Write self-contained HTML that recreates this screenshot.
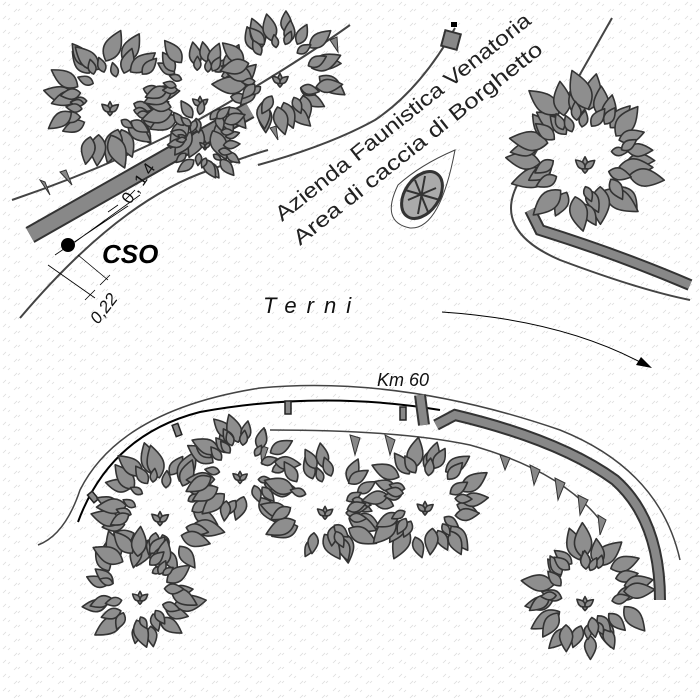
<!DOCTYPE html>
<html><head><meta charset="utf-8"><style>
html,body{margin:0;padding:0;background:#fff}
svg{display:block}
</style></head><body>
<svg id="s" width="700" height="700" viewBox="0 0 700 700" xmlns="http://www.w3.org/2000/svg">
<defs>
<pattern id="st" width="22" height="14" patternUnits="userSpaceOnUse">
<path d="M3 5 l3 -3 M8 6 l2 -2 M14 12 l3 -3 M18 11 l2 -2" stroke="#dcdcdc" stroke-width="0.8"/>
</pattern>
</defs>
<rect width="700" height="700" fill="#fff"/>
<rect width="700" height="700" fill="url(#st)"/>
<g id="roads" fill="none" stroke="#444" stroke-width="2">
<path d="M20 318 Q120 200 210 170 Q250 155 268 150"/>
<path d="M12 200 Q100 170 180 130 Q280 75 350 25"/>
<path d="M258 165 Q330 145 375 120 Q420 90 455 28"/>
<path d="M30 235 L250 110" stroke="#333" stroke-width="18"/>
<path d="M30 235 L250 110" stroke="#888" stroke-width="14"/>
<path d="M612 18 Q560 110 520 180 Q490 230 560 260 Q640 290 690 300"/>
<path d="M530 210 L540 230 Q620 255 690 285" stroke="#333" stroke-width="12"/>
<path d="M530 210 L540 230 Q620 255 690 285" stroke="#888" stroke-width="8"/>
<path d="M38 545 Q65 535 80 490 Q120 410 260 388 Q400 375 560 430 Q660 470 680 560" stroke-width="1.5"/>
<path d="M78 522 Q110 435 200 412 Q320 390 440 410" stroke="#000" stroke-width="2"/>
<path d="M436 425 L455 415 Q560 440 615 480 Q660 520 660 600" stroke="#333" stroke-width="12"/>
<path d="M436 425 L455 415 Q560 440 615 480 Q660 520 660 600" stroke="#888" stroke-width="8"/>
<path d="M420 395 L424 425" stroke="#333" stroke-width="12"/>
<path d="M420 395 L424 425" stroke="#888" stroke-width="8"/>
<path d="M270 430 Q400 430 470 445 Q560 470 600 520" stroke="#444" stroke-width="1.5"/>
<rect x="443" y="32" width="16" height="16" fill="#888" stroke="#333" stroke-width="2" transform="rotate(15 451 40)"/>
<rect x="451" y="22" width="6" height="5" fill="#000" stroke="none"/>
<g fill="#888" stroke="#222" stroke-width="1.5">
<rect x="90" y="492" width="6" height="10" transform="rotate(-40 93 497)"/>
<rect x="174" y="424" width="6" height="12" transform="rotate(-20 177 430)"/>
<rect x="285" y="401" width="6" height="13"/>
<rect x="400" y="407" width="6" height="13"/>
</g>
<g fill="#888" stroke="#333" stroke-width="1">
<path d="M40 180 L50 195 L45 182Z M60 172 L72 185 L66 170Z M270 128 L278 140 L276 126Z M330 40 L338 52 L337 37Z"/>
<path d="M500 455 L505 470 L510 458Z M530 465 L534 485 L540 470Z M555 478 L558 500 L565 483Z M578 495 L580 515 L588 500Z M598 515 L600 535 L606 520Z M350 435 L355 455 L360 438Z M385 435 L390 455 L395 440Z M260 445 L262 465 L268 448Z"/>
</g>
</g>
<g stroke="#000" stroke-width="0.8" fill="none">
<path d="M75 242 L140 195 M55 255 L128 206 M48 265 L95 298 M78 255 L108 280 M85 300 L95 290 M100 285 L110 275 M125 200 L135 190 M108 212 L118 205"/>
</g>
<circle cx="68" cy="245" r="7" fill="#000"/>
<text x="102" y="263" font-family="Liberation Sans, sans-serif" font-weight="bold" font-style="italic" font-size="26" fill="#000">CSO</text>
<text x="0" y="0" transform="translate(98,325) rotate(-52)" font-family="Liberation Sans, sans-serif" font-size="17" font-style="italic" fill="#111">0,22</text>
<text x="0" y="0" transform="translate(130,205) rotate(-55)" font-family="Liberation Sans, sans-serif" font-size="17" fill="#111" letter-spacing="4">0,14</text>
<text x="263" y="313" font-family="Liberation Sans, sans-serif" font-style="italic" font-size="22" letter-spacing="10" fill="#111">Terni</text>
<text x="377" y="386" font-family="Liberation Sans, sans-serif" font-style="italic" font-size="18" fill="#111">Km 60</text>
<path d="M442 312 Q560 320 640 362" fill="none" stroke="#000" stroke-width="1"/>
<path d="M652 368 L636 365 L641 357Z" fill="#000"/>
<g font-family="Liberation Sans, sans-serif" font-size="21" fill="#222">
<text transform="translate(282,222) rotate(-38.5)" textLength="320" lengthAdjust="spacingAndGlyphs">Azienda Faunistica Venatoria</text>
<text transform="translate(300,246) rotate(-38.5)" textLength="312" lengthAdjust="spacingAndGlyphs">Area di caccia di Borghetto</text>
</g>
<path d="M455 150 Q440 230 410 228 Q380 222 398 185 Q420 165 455 150Z" fill="none" stroke="#444" stroke-width="1"/>
<ellipse cx="422" cy="195" rx="17" ry="26" transform="rotate(35 422 195)" fill="#aaa" stroke="#333" stroke-width="3"/>
<g stroke="#333" stroke-width="2"><path d="M408 200 L436 188 M415 180 L428 212 M405 190 L440 200 M425 176 L418 214"/></g>
<g id="trees"></g>
</svg>
<script>
var seed=7;function rnd(){seed=(seed*9301+49297)%233280;return seed/233280;}
var g=document.getElementById('trees'),out='';
function leaf(x,y,ang,L,W){
 var c=Math.cos(ang),s=Math.sin(ang);
 function p(a,b){return (x+a*c-b*s).toFixed(1)+' '+(y+a*s+b*c).toFixed(1);}
 return '<path d="M'+p(0,0)+' C'+p(L*0.3,W)+' '+p(L*0.6,W*0.7)+' '+p(L,0)+' C'+p(L*0.6,-W*0.7)+' '+p(L*0.3,-W)+' '+p(0,0)+'Z"/>';
}
function tree(cx,cy,r){
 var n=Math.round(r*0.42);
 for(var i=0;i<n;i++){var a=i/n*6.283+rnd()*0.3,rr=r*(0.5+rnd()*0.2);
  var L=r*(0.35+rnd()*0.25);out+=leaf(cx+rr*Math.cos(a),cy+rr*Math.sin(a),a+(rnd()-0.5)*1.2,L,L*0.38);}
 for(var i=0;i<n*0.5;i++){var a=rnd()*6.283,rr=r*(0.38+rnd()*0.15);
  var L=r*(0.22+rnd()*0.14);out+=leaf(cx+rr*Math.cos(a),cy+rr*Math.sin(a),a+(rnd()-0.5),L,L*0.4);}
 var s=r*0.13;
 out+=leaf(cx,cy+s*2,-1.57,s*1.8,s*0.6)+leaf(cx,cy+s*1.5,-2.4,s*1.4,s*0.55)+leaf(cx,cy+s*1.5,-0.7,s*1.4,s*0.55);
}
[[110,100,60],[200,95,55],[280,72,58],[585,155,70],[160,510,60],[140,590,55],[240,470,52],[325,505,55],[425,500,58],[585,595,60],[205,140,38]].forEach(function(t){tree(t[0],t[1],t[2]);});
g.innerHTML='<g fill="#8e8e8e" stroke="#333" stroke-width="1.6" stroke-linejoin="round">'+out+'</g>';
</script>
</body></html>
